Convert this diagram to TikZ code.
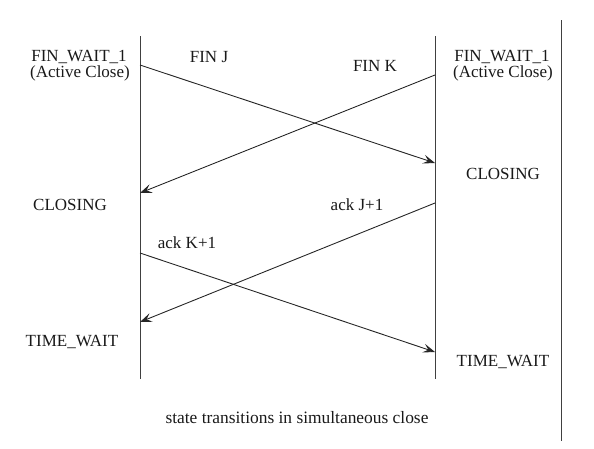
\documentclass[tikz,border=0pt]{standalone}
\usepackage{fontspec}
\setmainfont{Liberation Serif}
\usetikzlibrary{arrows.meta}
\begin{document}
\begin{tikzpicture}[x=1pt,y=-1pt,
  lbl/.style={inner sep=0pt,font=\fontsize{17}{19}\selectfont,text=black!90},
  captext/.style={inner sep=0pt,font=\fontsize{17.4}{19}\selectfont,text=black!90},
  life/.style={draw=black!75,line width=1pt},
  msg/.style={draw=black!85,line width=0.9pt,-{Stealth[length=12pt,width=9pt,inset=5pt]}}]
\useasboundingbox (0,0) rectangle (594,448);
% lifelines
\coordinate (Lt) at (140,36); \coordinate (Lb) at (140,379);
\coordinate (Rt) at (435,36); \coordinate (Rb) at (435,379);
\coordinate (Ft) at (561,20); \coordinate (Fb) at (561,441);
\draw[life] (Lt) -- (Lb);
\draw[life] (Rt) -- (Rb);
\draw[life] (Ft) -- (Fb);
% message endpoints
\coordinate (a1) at (140,65);  \coordinate (b1) at (435,163);
\coordinate (a2) at (435,75);  \coordinate (b2) at (140,193);
\coordinate (a3) at (435,203); \coordinate (b3) at (140,322);
\coordinate (a4) at (140,253); \coordinate (b4) at (435,352);
\draw[msg] (a1) -- (b1);
\draw[msg] (a2) -- (b2);
\draw[msg] (a3) -- (b3);
\draw[msg] (a4) -- (b4);
% labels
\node[lbl] (fw1) at (79,57) {FIN\_WAIT\_1};
\node[lbl] (ac1) at (80,73) {(Active Close)};
\node[lbl] (fw2) at (502,57) {FIN\_WAIT\_1};
\node[lbl] (ac2) at (503,73) {(Active Close)};
\node[lbl] (finj) at (209,57) {FIN J};
\node[lbl] (fink) at (375,66) {FIN K};
\node[lbl] (cl1) at (70,205) {CLOSING};
\node[lbl] (cl2) at (503,174) {CLOSING};
\node[lbl] (ackj) at (357,205) {ack J+1};
\node[lbl] (ackk) at (187,243) {ack K+1};
\node[lbl] (tw1) at (72,342) {TIME\_WAIT};
\node[lbl] (tw2) at (503,362) {TIME\_WAIT};
\node[captext] (capt) at (297,418) {state transitions in simultaneous close};
\end{tikzpicture}
\end{document}
